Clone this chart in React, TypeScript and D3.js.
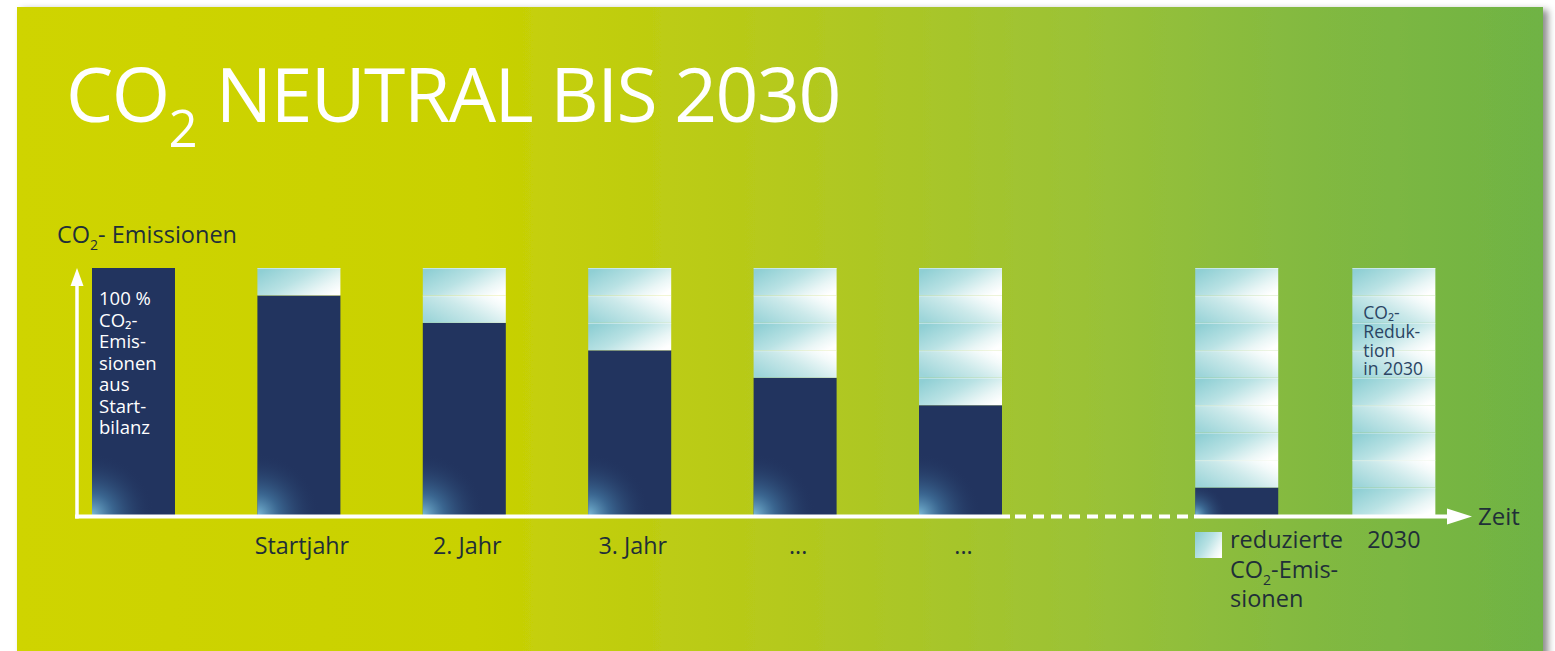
import * as d3 from "d3";

// bars along the time axis (slot = position on the broken time axis)
const periods = ["start", "startjahr", "jahr2", "jahr3", "dots1", "dots2", "vorjahr", "2030"];
const timeSlots = [0, 1, 2, 3, 4, 5, 6.67, 7.62];
const tickLabels = ["", "Startjahr", "2. Jahr", "3. Jahr", "...", "...", "", "2030"];
// remaining emissions in steps of 1/9 of the start balance
const remaining = [9, 8, 7, 6, 5, 4, 1, 0];
const totalSteps = 9;

const startBarLines = ["100 %", "CO₂-", "Emis-", "sionen", "aus", "Start-", "bilanz"];
const endBarLines = ["CO₂-", "Reduk-", "tion", "in 2030"];

const W = 1555;
const H = 651;
const FONT = "'Open Sans', 'Noto Sans', sans-serif";
const TEXT_DARK = "#1f2f38";
const NAVY = "#22345f";

export default function App() {
  const x = d3.scaleLinear().domain([0, 1]).range([92, 257.4]);
  const barW = 83;
  const y = d3.scaleLinear().domain([0, totalSteps]).range([515, 268]);
  const axisY = 516.5;
  const axisX = 77;

  const segments = periods.flatMap((p, i) =>
    d3.range(remaining[i], totalSteps).map((s) => ({ i, s, key: `${p}-${s}` })),
  );

  return (
    <svg
      width={W}
      height={H}
      style={{ position: "absolute", left: 0, top: 0, background: "#fff" }}
      fontFamily={FONT}
    >
      <defs>
        <linearGradient id="bg" x1="0" y1="0" x2="1" y2="0">
          <stop offset="0" stopColor="#cfd400" />
          <stop offset="0.3" stopColor="#c9d102" />
          <stop offset="0.5" stopColor="#b5c91c" />
          <stop offset="0.7" stopColor="#9bc236" />
          <stop offset="0.85" stopColor="#82b941" />
          <stop offset="1" stopColor="#6fb344" />
        </linearGradient>
        <filter id="shadow" x="-5%" y="-5%" width="110%" height="110%">
          <feDropShadow dx="5" dy="3" stdDeviation="3.5" floodColor="#000" floodOpacity="0.45" />
        </filter>
        <linearGradient id="light0" x1="0" y1="0.2" x2="1" y2="0.8">
          <stop offset="0" stopColor="#8fcfd4" />
          <stop offset="0.45" stopColor="#b9e2e4" />
          <stop offset="0.8" stopColor="#eaf6f6" />
          <stop offset="1" stopColor="#ffffff" />
        </linearGradient>
        <linearGradient id="light1" x1="0" y1="0.8" x2="1" y2="0.2">
          <stop offset="0" stopColor="#9dd5d9" />
          <stop offset="0.5" stopColor="#cbe9ea" />
          <stop offset="0.85" stopColor="#f3fafa" />
          <stop offset="1" stopColor="#ffffff" />
        </linearGradient>
        {periods.map((p, i) =>
          remaining[i] > 0 ? (
            <radialGradient
              key={p}
              id={`glow-${i}`}
              gradientUnits="userSpaceOnUse"
              cx={x(timeSlots[i])}
              cy={y(0)}
              r={remaining[i] > 2 ? 62 : 32}
            >
              <stop offset="0" stopColor="#7fc0dc" stopOpacity="0.95" />
              <stop offset="0.35" stopColor="#4a86b0" stopOpacity="0.6" />
              <stop offset="1" stopColor={NAVY} stopOpacity="0" />
            </radialGradient>
          ) : null,
        )}
      </defs>

      {/* panel */}
      <rect x={17} y={7} width={1526} height={H} fill="url(#bg)" filter="url(#shadow)" />

      {/* title */}
      <text x={66} y={122} fill="#fff" fontSize={75} letterSpacing={-1.5}>
        CO
        <tspan fontSize={51} dy={25} letterSpacing={0}>2</tspan>
        <tspan dy={-25}> NEUTRAL BIS 2030</tspan>
      </text>

      {/* y axis title */}
      <text x={57} y={243} fill={TEXT_DARK} fontSize={23.5}>
        CO<tspan fontSize={14} dy={7}>2</tspan>
        <tspan dy={-7}>- Emissionen</tspan>
      </text>

      {/* dark (remaining) parts */}
      {periods.map((p, i) =>
        remaining[i] > 0 ? (
          <g key={p}>
            <rect
              x={x(timeSlots[i])}
              y={y(remaining[i])}
              width={barW}
              height={y(0) - y(remaining[i])}
              fill={NAVY}
            />
            <rect
              x={x(timeSlots[i])}
              y={y(remaining[i])}
              width={barW}
              height={y(0) - y(remaining[i])}
              fill={`url(#glow-${i})`}
            />
          </g>
        ) : null,
      )}

      {/* reduced parts */}
      {segments.map((d) => (
        <g key={d.key}>
          <rect
            x={x(timeSlots[d.i])}
            y={y(d.s + 1)}
            width={barW}
            height={y(d.s) - y(d.s + 1)}
            fill={`url(#light${d.s % 2})`}
          />
          <line
            x1={x(timeSlots[d.i])}
            x2={x(timeSlots[d.i]) + barW}
            y1={y(d.s + 1) + 0.5}
            y2={y(d.s + 1) + 0.5}
            stroke="#ffffff"
            strokeOpacity={0.45}
          />
        </g>
      ))}

      {/* text in first bar */}
      <text fill="#fff" fontSize={18.5}>
        {startBarLines.map((t, k) => (
          <tspan key={k} x={x(timeSlots[0]) + 7} y={305 + k * 21.5}>
            {t}
          </tspan>
        ))}
      </text>

      {/* text in last bar */}
      <text fill="#2a4463" fontSize={17.5}>
        {endBarLines.map((t, k) => (
          <tspan key={k} x={x(timeSlots[7]) + 11} y={319 + k * 18.8}>
            {t}
          </tspan>
        ))}
      </text>

      {/* axes */}
      <line x1={axisX} x2={axisX} y1={axisY + 2} y2={284} stroke="#fff" strokeWidth={3.5} />
      <path d={`M${axisX},268 L${axisX + 6.5},286 L${axisX - 6.5},286 Z`} fill="#fff" />
      <line x1={axisX - 2} x2={1010} y1={axisY} y2={axisY} stroke="#fff" strokeWidth={4} />
      <line
        x1={1015}
        x2={1190}
        y1={axisY}
        y2={axisY}
        stroke="#fff"
        strokeWidth={4}
        strokeDasharray="11 7"
      />
      <line x1={1194} x2={1450} y1={axisY} y2={axisY} stroke="#fff" strokeWidth={4} />
      <path d={`M1472,${axisY} L1447,${axisY - 8} L1447,${axisY + 8} Z`} fill="#fff" />
      <text x={1478} y={525} fill={TEXT_DARK} fontSize={24}>
        Zeit
      </text>

      {/* tick labels */}
      {periods.map((p, i) =>
        tickLabels[i] ? (
          <text
            key={p}
            x={x(timeSlots[i]) + barW / 2 + (i === 7 ? 0 : 3)}
            y={i === 7 ? 548 : 554}
            textAnchor="middle"
            fill={TEXT_DARK}
            fontSize={23.3}
          >
            {tickLabels[i]}
          </text>
        ) : null,
      )}

      {/* legend */}
      <rect x={1195} y={532} width={27} height={26} fill="url(#light0)" />
      <text fill={TEXT_DARK} fontSize={23.5}>
        <tspan x={1230} y={548}>reduzierte</tspan>
        <tspan x={1230} y={578}>CO</tspan>
        <tspan fontSize={14} dy={7}>2</tspan>
        <tspan dy={-7}>-Emis-</tspan>
        <tspan x={1230} y={607}>sionen</tspan>
      </text>
    </svg>
  );
}
